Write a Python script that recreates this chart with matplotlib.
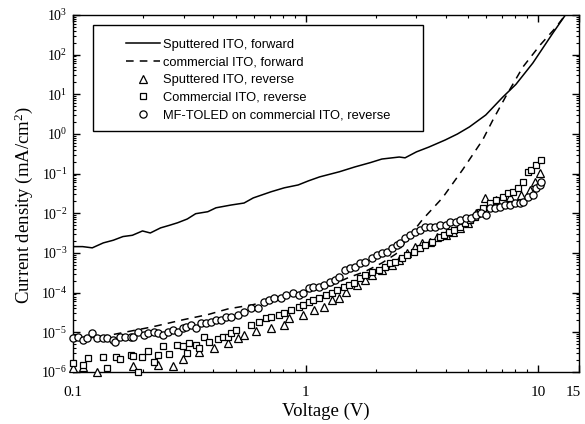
import math
import matplotlib
matplotlib.use("Agg")
import matplotlib.pyplot as plt
import matplotlib.transforms as mtransforms
from matplotlib.ticker import FixedLocator, FixedFormatter, LogLocator, FuncFormatter, NullFormatter
from matplotlib.patches import Rectangle

plt.rcParams['font.family'] = ['Liberation Serif', 'DejaVu Serif']
plt.rcParams['mathtext.fontset'] = 'custom'
plt.rcParams['mathtext.rm'] = 'Liberation Serif'
plt.rcParams['mathtext.it'] = 'Liberation Serif:italic'
plt.rcParams['mathtext.bf'] = 'Liberation Serif:bold'

# ---------------- data ----------------
sput_fwd_v = [0.100, 0.110, 0.121, 0.135, 0.149, 0.164, 0.180, 0.199, 0.215, 0.238, 0.260,
              0.282, 0.310, 0.337, 0.380, 0.412, 0.478, 0.544, 0.596, 0.711, 0.810, 0.930,
              1.03, 1.15, 1.40, 1.63, 1.90, 2.13, 2.53, 2.68, 3.00, 3.39, 3.99, 4.50, 5.07,
              5.96, 7.05, 8.03, 9.50, 11.6, 13.0]
sput_fwd_j = [1.45e-3, 1.45e-3, 1.35e-3, 1.8e-3, 2.1e-3, 2.6e-3, 2.8e-3, 3.6e-3, 3.2e-3, 4.3e-3, 5.0e-3,
              5.8e-3, 7.2e-3, 9.8e-3, 1.1e-2, 1.38e-2, 1.62e-2, 1.82e-2, 2.45e-2, 3.5e-2, 4.4e-2, 5.2e-2,
              6.6e-2, 8.3e-2, 0.112, 0.148, 0.19, 0.234, 0.263, 0.251, 0.355, 0.468, 0.708, 1.0, 1.51,
              3.02, 8.5, 17.8, 61.7, 355.0, 930.0]

comm_fwd_v = [0.100, 0.150, 0.220, 0.300, 0.380, 0.464, 0.596, 0.800, 1.09, 1.27, 1.53, 1.80,
              2.13, 2.45, 2.68, 3.18, 3.88, 4.74, 5.78, 6.38, 7.27, 8.61, 10.2, 11.86, 13.1]
comm_fwd_j = [6.3e-6, 8.9e-6, 1.38e-5, 2.1e-5, 2.8e-5, 3.9e-5, 5.0e-5, 7.9e-5, 1.17e-4, 1.48e-4,
              2.4e-4, 3.4e-4, 5.6e-4, 9.5e-4, 1.9e-3, 6.9e-3, 2.45e-2, 0.126, 0.71, 2.2, 8.9,
              49.0, 174.0, 468.0, 1000.0]

sput_rev_v = [0.100, 0.110, 0.127, 0.182, 0.233, 0.268, 0.297, 0.348, 0.404, 0.464, 0.513, 0.544,
              0.613, 0.712, 0.811, 0.853, 0.980, 1.09, 1.20, 1.30, 1.40, 1.50, 1.66, 1.80, 1.93,
              2.13, 2.36, 2.53, 2.74, 2.97, 3.18, 3.44, 3.69, 4.00, 4.29, 4.60, 4.98, 5.39, 5.78,
              5.90, 6.58, 7.56, 8.44, 9.23, 9.70, 10.2]
sput_rev_j = [1.28e-6, 1.36e-6, 1.0e-6, 1.44e-6, 1.53e-6, 1.44e-6, 2.16e-6, 3.24e-6, 4.09e-6, 5.47e-6,
              7.3e-6, 8.7e-6, 1.10e-5, 1.30e-5, 1.55e-5, 2.33e-5, 2.77e-5, 3.71e-5, 4.42e-5, 6.6e-5,
              7.4e-5, 1.05e-4, 1.58e-4, 2.11e-4, 2.82e-4, 3.78e-4, 5.05e-4, 6.7e-4, 1.01e-3, 1.43e-3,
              1.81e-3, 1.91e-3, 2.56e-3, 2.87e-3, 3.42e-3, 4.31e-3, 5.77e-3, 1.03e-2, 1.22e-2,
              2.45e-2, 2.19e-2, 2.60e-2, 2.92e-2, 3.91e-2, 6.2e-2, 0.105]

comm_rev_v = [0.100, 0.110, 0.116, 0.134, 0.140, 0.153, 0.160, 0.177, 0.182, 0.191, 0.199, 0.211,
              0.222, 0.233, 0.245, 0.258, 0.279, 0.297, 0.308, 0.315, 0.337, 0.348, 0.365, 0.384,
              0.420, 0.442, 0.464, 0.478, 0.503, 0.583, 0.632, 0.678, 0.712, 0.771, 0.811, 0.869,
              0.933, 0.980, 1.03, 1.08, 1.14, 1.23, 1.30, 1.36, 1.46, 1.54, 1.61, 1.71, 1.80, 1.93,
              2.07, 2.20, 2.31, 2.43, 2.61, 2.74, 2.94, 3.12, 3.27, 3.51, 3.77, 3.96, 4.16, 4.37,
              4.60, 4.83, 5.08, 5.34, 5.61, 5.78, 6.20, 6.58, 7.05, 7.41, 7.79, 8.19, 8.61, 9.05,
              9.33, 9.80, 10.3]
comm_rev_j = [1.71e-6, 1.53e-6, 2.29e-6, 2.43e-6, 1.28e-6, 2.43e-6, 2.16e-6, 2.73e-6, 2.57e-6, 1.0e-6,
              2.43e-6, 3.44e-6, 1.82e-6, 2.73e-6, 4.59e-6, 2.89e-6, 4.87e-6, 4.59e-6, 3.06e-6, 5.47e-6,
              4.87e-6, 4.09e-6, 7.7e-6, 5.8e-6, 6.9e-6, 7.7e-6, 7.7e-6, 9.8e-6, 1.16e-5, 1.55e-5,
              1.85e-5, 2.33e-5, 2.47e-5, 2.77e-5, 3.12e-5, 3.71e-5, 4.42e-5, 4.96e-5, 5.90e-5, 6.6e-5,
              7.4e-5, 8.9e-5, 9.9e-5, 1.18e-4, 1.41e-4, 1.58e-4, 1.77e-4, 2.37e-4, 2.82e-4, 3.36e-4,
              3.78e-4, 4.49e-4, 5.66e-4, 6.0e-4, 7.6e-4, 9.0e-4, 1.07e-3, 1.35e-3, 1.61e-3, 1.91e-3,
              2.56e-3, 2.87e-3, 3.42e-3, 3.84e-3, 4.57e-3, 5.77e-3, 6.9e-3, 8.2e-3, 1.09e-2, 1.38e-2,
              1.84e-2, 2.19e-2, 2.60e-2, 3.28e-2, 3.48e-2, 4.39e-2, 6.2e-2, 0.111, 0.125, 0.167, 0.223]

mf_rev_v = [0.100, 0.105, 0.110, 0.115, 0.121, 0.127, 0.134, 0.140, 0.148, 0.152, 0.160, 0.168,
            0.177, 0.182, 0.191, 0.201, 0.211, 0.222, 0.233, 0.243, 0.255, 0.268, 0.282, 0.297,
            0.306, 0.321, 0.337, 0.355, 0.373, 0.392, 0.412, 0.433, 0.455, 0.478, 0.513, 0.544,
            0.583, 0.626, 0.665, 0.699, 0.735, 0.788, 0.828, 0.887, 0.942, 0.980, 1.03, 1.08,
            1.14, 1.20, 1.27, 1.34, 1.40, 1.48, 1.55, 1.63, 1.71, 1.80, 1.93, 2.03, 2.13, 2.24,
            2.36, 2.48, 2.55, 2.68, 2.82, 2.97, 3.12, 3.27, 3.44, 3.62, 3.80, 4.00, 4.20, 4.42,
            4.64, 4.88, 5.13, 5.39, 5.66, 5.96, 6.20, 6.51, 6.84, 7.19, 7.56, 7.95, 8.36, 8.61,
            9.05, 9.51, 9.80, 10.2, 10.3]
mf_rev_j = [7.3e-6, 7.7e-6, 6.5e-6, 7.3e-6, 9.8e-6, 7.3e-6, 7.3e-6, 7.3e-6, 6.5e-6, 5.8e-6, 7.7e-6,
            7.7e-6, 7.7e-6, 7.7e-6, 1.03e-5, 8.7e-6, 9.8e-6, 1.03e-5, 9.8e-6, 8.7e-6, 1.03e-5,
            1.16e-5, 1.03e-5, 1.30e-5, 1.38e-5, 1.55e-5, 1.30e-5, 1.74e-5, 1.74e-5, 1.85e-5, 2.07e-5,
            2.07e-5, 2.47e-5, 2.47e-5, 2.77e-5, 3.30e-5, 4.17e-5, 4.17e-5, 5.90e-5, 6.6e-5, 7.4e-5,
            7.4e-5, 8.9e-5, 9.9e-5, 8.9e-5, 9.9e-5, 1.33e-4, 1.41e-4, 1.41e-4, 1.58e-4, 1.88e-4,
            2.11e-4, 2.52e-4, 3.78e-4, 4.24e-4, 4.49e-4, 5.66e-4, 6.0e-4, 7.6e-4, 9.0e-4, 1.01e-3,
            1.07e-3, 1.35e-3, 1.61e-3, 1.81e-3, 2.42e-3, 2.87e-3, 3.42e-3, 3.84e-3, 4.57e-3, 4.57e-3,
            4.57e-3, 5.13e-3, 5.13e-3, 6.1e-3, 6.1e-3, 6.9e-3, 7.7e-3, 7.7e-3, 9.2e-3, 1.03e-2,
            9.2e-3, 1.38e-2, 1.38e-2, 1.46e-2, 1.64e-2, 1.64e-2, 1.84e-2, 1.84e-2, 1.95e-2, 2.60e-2,
            2.92e-2, 4.39e-2, 5.22e-2, 6.2e-2]

labels = ['Sputtered ITO, forward', 'commercial ITO, forward', 'Sputtered ITO, reverse',
          'Commercial ITO, reverse', 'MF-TOLED on commercial ITO, reverse']
x_ticks = [0.1, 1, 10, 15]
x_ticklabels = ['0.1', '1', '10', '15']

# ---------------- figure ----------------
fig = plt.figure(figsize=(5.85, 4.24), dpi=100)
ax = fig.add_axes([0.1248, 0.1226, 0.8649, 0.842])
ax.set_xscale('log')
ax.set_yscale('log')

ax.plot(sput_fwd_v, sput_fwd_j, '-', color='black', lw=1.1, label=labels[0], zorder=2)
ax.plot(comm_fwd_v, comm_fwd_j, color='black', lw=1.1, dashes=(5, 4), label=labels[1], zorder=2)
mk = dict(ls='none', mfc='white', mec='black', mew=0.9, clip_on=False, zorder=3)
ax.plot(sput_rev_v, sput_rev_j, marker='^', ms=5.4, label=labels[2], **mk)
ax.plot(comm_rev_v, comm_rev_j, marker='s', ms=4.8, label=labels[3], **mk)
ax.plot(mf_rev_v, mf_rev_j, marker='o', ms=5.2, label=labels[4], **mk)

ax.set_xlim(0.1, 15)
ax.set_ylim(1e-6, 1e3)

ax.xaxis.set_major_locator(FixedLocator(x_ticks))
ax.xaxis.set_major_formatter(FixedFormatter(x_ticklabels))
ax.xaxis.set_minor_locator(FixedLocator([0.2, 0.3, 0.4, 0.5, 0.6, 0.7, 0.8, 0.9,
                                         2, 3, 4, 5, 6, 7, 8, 9]))
ax.xaxis.set_minor_formatter(NullFormatter())
ax.yaxis.set_major_locator(LogLocator(base=10, numticks=20))
ax.yaxis.set_minor_locator(LogLocator(base=10, subs=[2, 3, 4, 5, 6, 7, 8, 9], numticks=20))
ax.yaxis.set_major_formatter(FuncFormatter(lambda v, p: r'$\mathrm{10^{%d}}$' % round(math.log10(v))))
ax.yaxis.set_minor_formatter(NullFormatter())

ax.tick_params(which='both', direction='in', top=True, right=True)
ax.tick_params(which='major', length=5, width=1.0)
ax.tick_params(which='minor', length=2.5, width=0.8)
ax.tick_params(axis='x', which='major', pad=10, labelsize=11)
ax.tick_params(axis='y', which='major', pad=4, labelsize=10)
for s in ax.spines.values():
    s.set_linewidth(1.0)

# nudge the "15" label slightly left so it stays inside the canvas
last_tick = ax.xaxis.get_major_ticks()[-1]
last_tick.label1.set_transform(last_tick.label1.get_transform() +
                               mtransforms.ScaledTranslation(-4 / 72, 0, fig.dpi_scale_trans))

ax.set_xlabel('Voltage (V)', fontsize=13.5, labelpad=3)
ax.set_ylabel(r'Current density (mA/cm$^2$)', fontsize=13.5)
ax.yaxis.set_label_coords(-0.075, 0.469)

leg = ax.legend(loc='upper left', bbox_to_anchor=(0.1047, 0.934), frameon=False,
                borderpad=0, borderaxespad=0, handlelength=2.6, handletextpad=0.25,
                labelspacing=0.44, numpoints=1,
                prop={'family': 'Liberation Sans', 'size': 9.3})
ax.add_patch(Rectangle((0.0395, 0.675), 0.6522, 0.297, transform=ax.transAxes,
                       fill=False, lw=1.0, ec='black', zorder=4))

fig.savefig('out.png', dpi=100)
